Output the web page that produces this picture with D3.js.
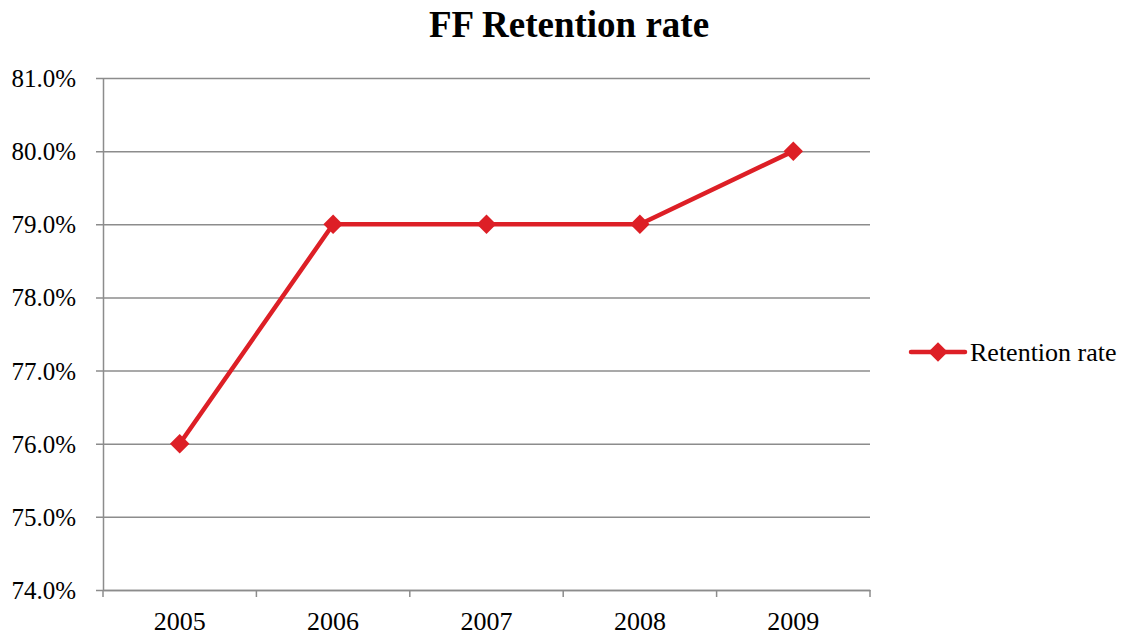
<!DOCTYPE html>
<html><head><meta charset="utf-8">
<script src="https://cdn.jsdelivr.net/npm/d3@7"></script>
<style>body{margin:0;background:#fff}svg{display:block}</style>
</head><body>
<svg id="c" width="1123" height="639"></svg>
<script>
const categories = ["2005","2006","2007","2008","2009"];
const retentionRate = [0.76, 0.79, 0.79, 0.79, 0.80];
const yTicks = [0.74,0.75,0.76,0.77,0.78,0.79,0.80,0.81];
const seriesName = "Retention rate";
const chartTitle = "FF Retention rate";

(function(){
const FONT = "'Liberation Serif','Times New Roman',serif";
const svg = d3.select("#c");
const pL = 103, pR = 870, pT = 78, pB = 590;
const x = d3.scaleBand().domain(categories).range([pL, pR]);
const y = d3.scaleLinear().domain([0.74, 0.81]).range([pB, pT]);
const red = "#dd1f26", grid = "#8c8c8c";

svg.append("text").attr("x", 569).attr("y", 37).attr("text-anchor","middle")
  .style("font-family", FONT).style("font-size","37px").style("font-weight","bold").text(chartTitle);

const yAxis = d3.axisLeft(y).tickValues(yTicks).tickSize(-(pR-pL)).tickSizeOuter(0)
  .tickFormat(d3.format(".1%")).tickPadding(20);
const gy = svg.append("g").attr("transform",`translate(${pL},0)`).call(yAxis);
gy.select(".domain").attr("stroke", grid).attr("stroke-width",1.5);
gy.selectAll(".tick line").attr("stroke", grid).attr("stroke-width",1.5).attr("x1",-7);
gy.selectAll(".tick text").style("font-size","25px").attr("fill","#000").style("font-family",FONT).attr("x",-27).attr("dy","0.34em");

const xAxis = d3.axisBottom(x).tickSize(0).tickPadding(0);
const gx = svg.append("g").attr("transform",`translate(0,${pB})`).call(xAxis);
gx.select(".domain").attr("stroke", grid).attr("stroke-width",1.5);
gx.selectAll(".tick text").style("font-size","26px").attr("fill","#000").style("font-family",FONT).attr("y",40).attr("dy",0);
const edges = categories.map(c => x(c)).concat([x(categories[categories.length-1]) + x.bandwidth()]);
svg.append("g").selectAll("line").data(edges).join("line")
  .attr("x1", d=>d).attr("x2", d=>d).attr("y1", pB).attr("y2", pB+7)
  .attr("stroke", grid).attr("stroke-width",1.5);

const cx = c => x(c) + x.bandwidth()/2;
const line = d3.line().x((d,i)=>cx(categories[i])).y(d=>y(d));
svg.append("path").datum(retentionRate).attr("d", line).attr("fill","none")
  .attr("stroke", red).attr("stroke-width",4.5).attr("stroke-linejoin","round");
const diamond = d3.symbol().type(d3.symbolSquare).size(190);
svg.append("g").selectAll("path").data(retentionRate).join("path")
  .attr("d", diamond).attr("fill", red)
  .attr("transform",(d,i)=>`translate(${cx(categories[i])},${y(d)}) rotate(45)`);

const lg = svg.append("g").attr("transform","translate(911,352)");
lg.append("line").attr("x1",0).attr("x2",54).attr("stroke",red).attr("stroke-width",4.5).attr("stroke-linecap","round");
lg.append("path").attr("d", diamond).attr("fill",red).attr("transform","translate(27,0) rotate(45)");
lg.append("text").attr("x",59).attr("dy","0.34em").style("font-size","26px").style("font-family",FONT).text(seriesName);
})();
</script>
</body></html>
